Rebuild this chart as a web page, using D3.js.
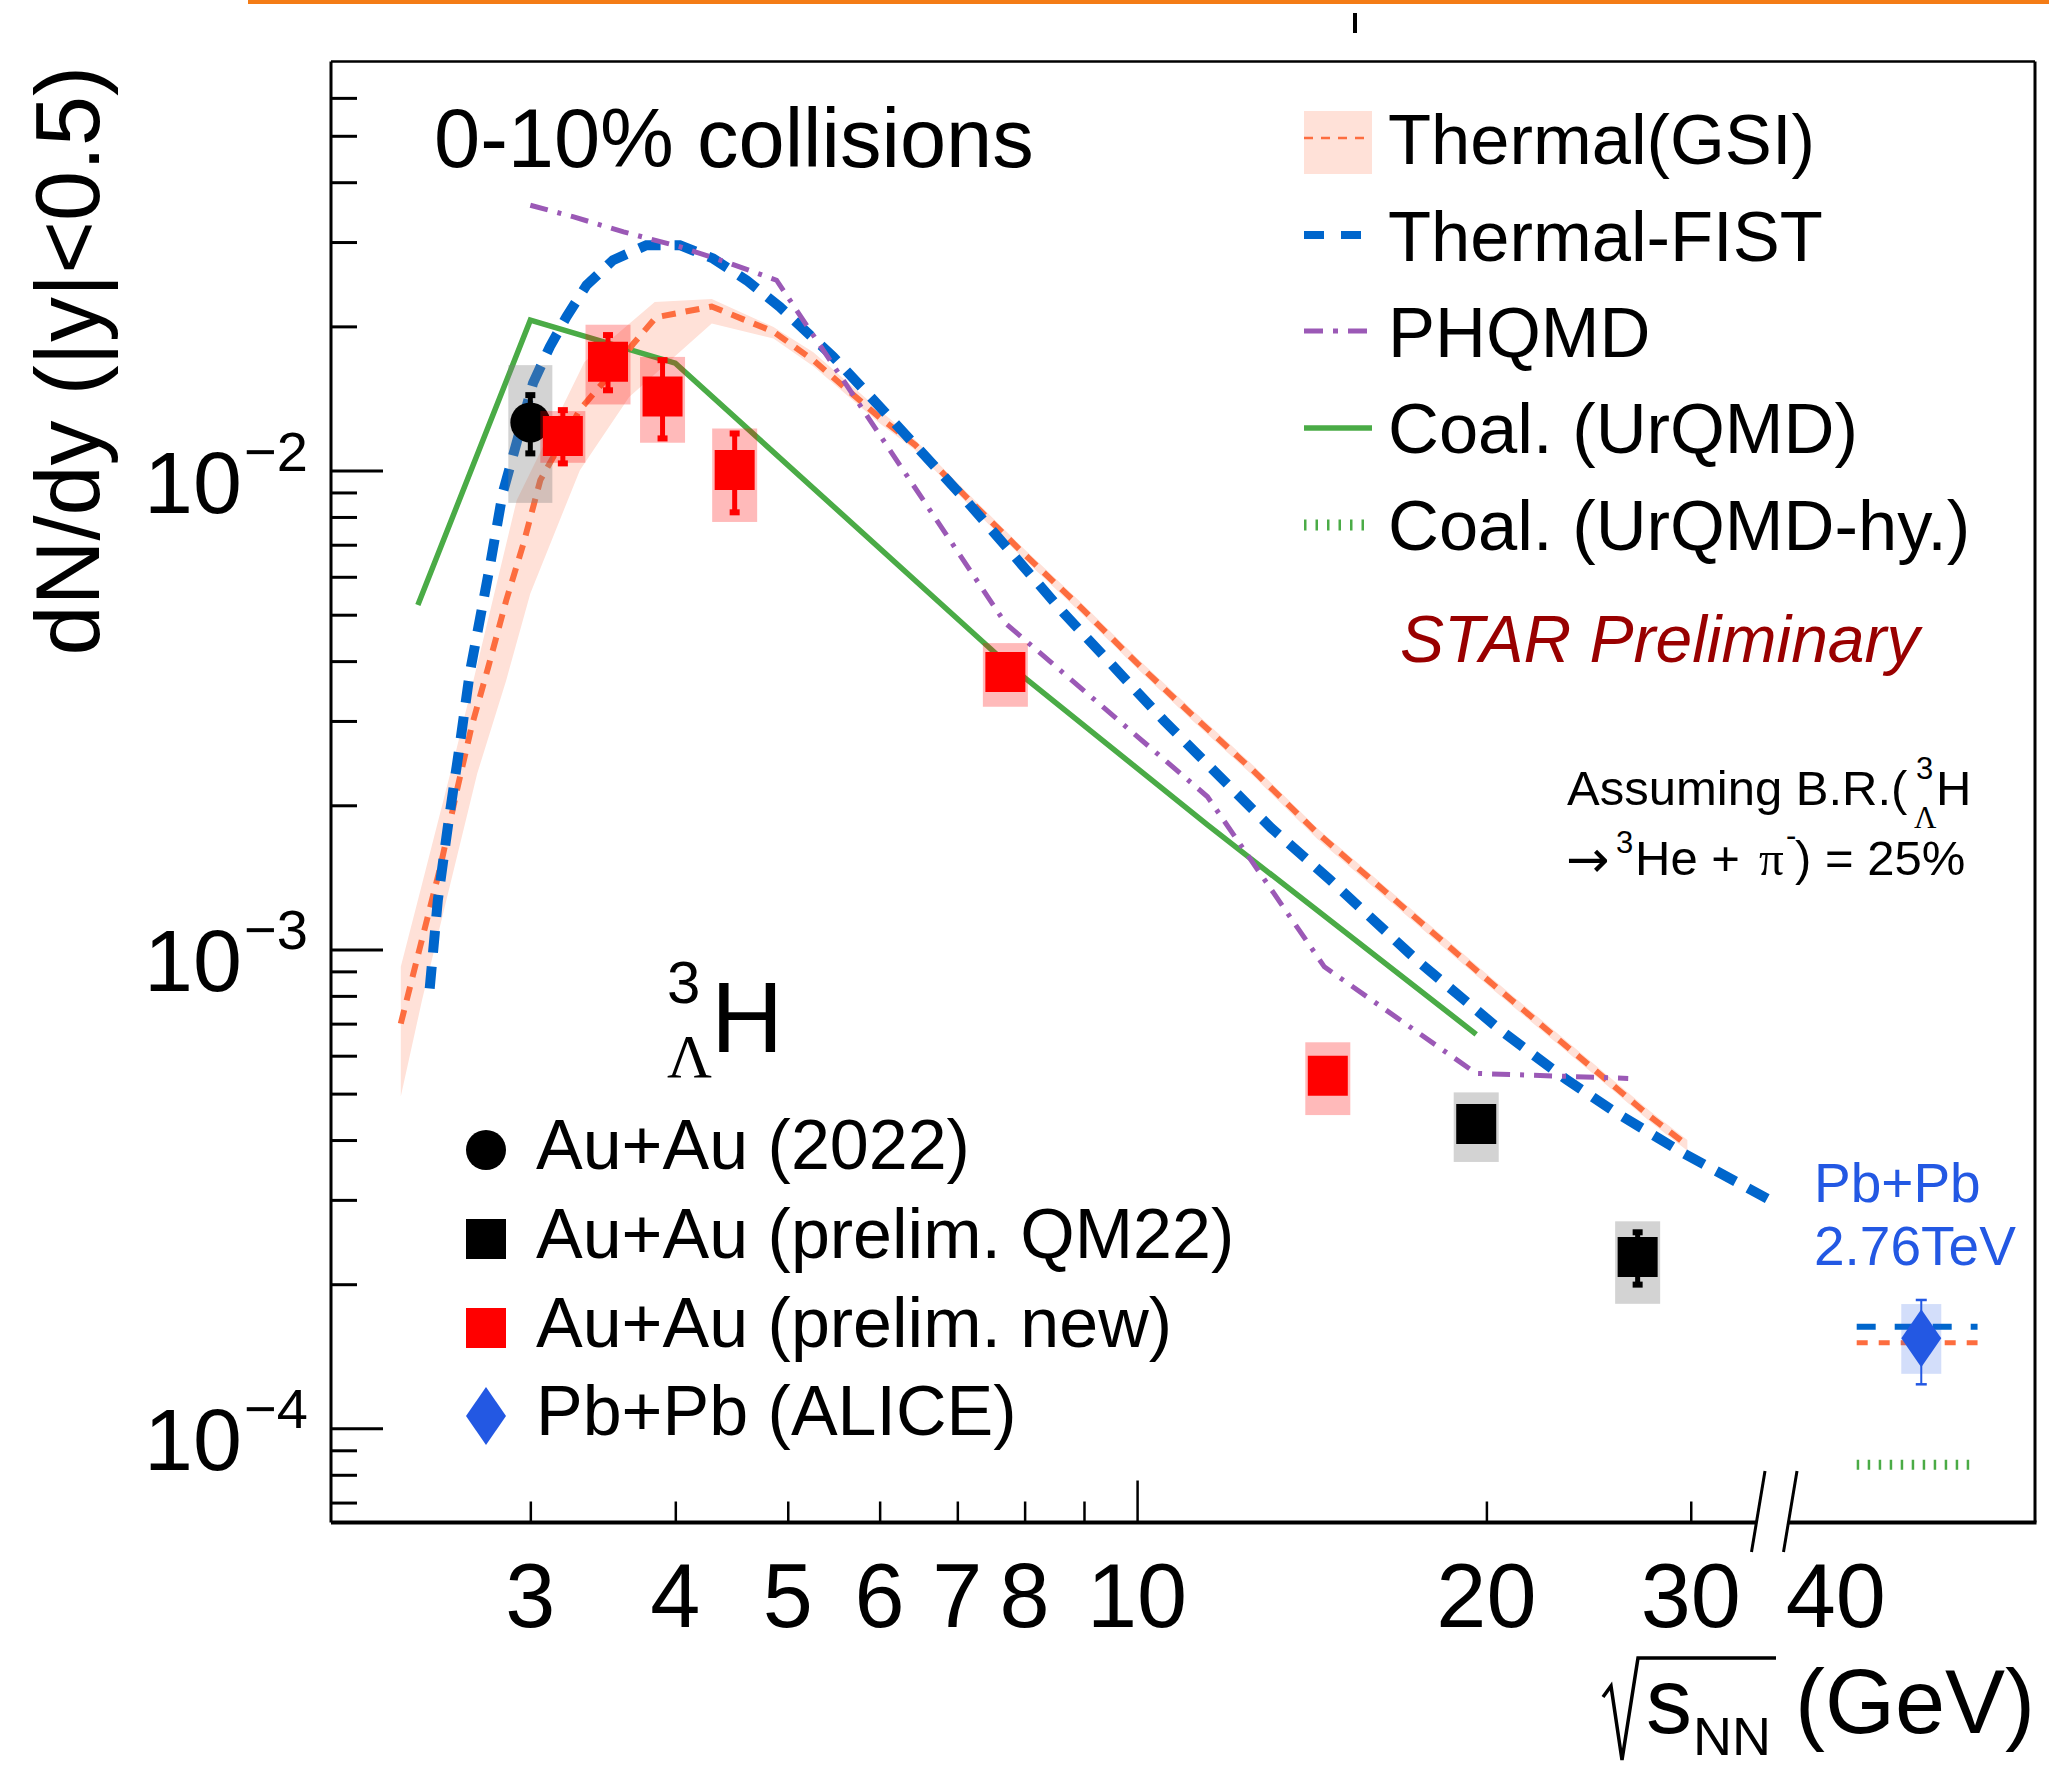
<!DOCTYPE html>
<html>
<head>
<meta charset="utf-8">
<script src="https://cdn.jsdelivr.net/npm/d3@7"></script>
<style>
html, body { margin:0; padding:0; background:#fff; }
svg { display:block; }
text { font-family: "Liberation Sans", Arial, Helvetica, sans-serif; fill:#000; }
.serif { font-family: "Liberation Serif", "DejaVu Serif", serif; }
.djv { font-family: "DejaVu Sans", sans-serif; }
</style>
</head>
<body>
<svg id="chart"></svg>
<script>
// ---- model curves (sqrt(sNN) in GeV, dN/dy) ----
var gsiE = [2.32, 2.41, 2.51, 2.59, 2.67, 2.76, 2.86, 2.96, 3.06, 3.31, 3.54, 3.68, 3.85, 4.30, 4.86, 5.26, 6.00, 6.44, 7.10, 7.96, 8.92, 10.0, 11.2, 12.6, 14.3, 19.9, 27.7, 29.8];
var gsiV = [7.0e-4, 1.01e-3, 1.49e-3, 2.12e-3, 2.92e-3, 3.89e-3, 5.36e-3, 7.05e-3, 9.55e-3, 0.0134, 0.0162, 0.0184, 0.0209, 0.0220, 0.0195, 0.0170, 0.0129, 0.0113, 8.88e-3, 6.76e-3, 5.21e-3, 3.96e-3, 3.06e-3, 2.36e-3, 1.75e-3, 8.77e-4, 4.47e-4, 3.9e-4];
var gsiUpE = [2.32, 2.42, 2.59, 2.68, 2.92, 3.34, 3.84, 4.30, 4.86, 5.26, 6.00, 6.44, 7.10, 7.96, 8.92, 10.0, 11.2, 12.6, 14.3, 19.9, 27.7, 29.8];
var gsiUpV = [9.2e-4, 1.37e-3, 2.61e-3, 3.65e-3, 8.67e-3, 0.01686, 0.0225, 0.0228, 0.01995, 0.01767, 0.01337, 0.01158, 0.00911, 0.00692, 0.00534, 0.00406, 0.00314, 0.00242, 0.00179, 0.000899, 0.000459, 0.0004];
var gsiLoE = [2.32, 2.42, 2.70, 2.86, 3.00, 3.31, 3.65, 4.30, 4.86, 5.26, 6.00, 6.44, 7.10, 7.96, 8.92, 10.0, 11.2, 12.6, 14.3, 19.9, 27.7, 29.8];
var gsiLoV = [4.93e-4, 7.84e-4, 2.33e-3, 3.65e-3, 5.54e-3, 0.01002, 0.01425, 0.02028, 0.01887, 0.01652, 0.01256, 0.01102, 0.00866, 0.00659, 0.00508, 0.00386, 0.00298, 0.0023, 0.0017, 0.000855, 0.000436, 0.00038];

var fistE = [2.457, 2.497, 2.547, 2.607, 2.66, 2.768, 2.84, 3.016, 3.118, 3.223, 3.354, 3.535, 3.777, 4.036, 4.311, 4.607, 4.921, 5.472, 6.003, 7.104, 8.655, 10.55, 13.05, 14.67, 17.42, 20.56, 23.47, 25.92, 29.58, 35.73];
var fistV = [8.29e-4, 1.268e-3, 1.804e-3, 2.65e-3, 3.771e-3, 6.295e-3, 8.97e-3, 0.01522, 0.01812, 0.02094, 0.02438, 0.02749, 0.02955, 0.02955, 0.02772, 0.02497, 0.02197, 0.01728, 0.01358, 8.724e-3, 5.024e-3, 3.003e-3, 1.793e-3, 1.396e-3, 9.5e-4, 6.787e-4, 5.338e-4, 4.548e-4, 3.753e-4, 2.927e-4];

var phqmdE = [3.0, 3.27, 3.61, 4.04, 4.46, 4.89, 7.7, 11.5, 14.5, 19.6, 26.5];
var phqmdV = [0.0358, 0.03385, 0.0315, 0.02931, 0.02706, 0.02497, 4.8e-3, 2.084e-3, 9.2e-4, 5.51e-4, 5.38e-4];

var coalE = [2.4, 3.0, 4.0, 7.7, 11.5, 19.6];
var coalV = [5.24e-3, 0.0206, 0.01676, 3.98e-3, 1.82e-3, 6.65e-4];

// model values at LHC (drawn next to the ALICE point)
var lhcE = [41.7, 53.0];
var fistLhcV = [1.63e-4, 1.63e-4];
var gsiLhcV = [1.51e-4, 1.51e-4];
var coalHyLhcV = [8.4e-5, 8.4e-5];

// ---- data points ----
var pubE = [3.0];
var pubV = [0.0126];
var pubStatLo = [0.01086], pubStatHi = [0.01437];
var pubSysLo = [0.00856], pubSysHi = [0.0166];

var newE = [3.2, 3.5, 3.9, 4.5, 7.7, 14.6];
var newV = [0.01181, 0.01688, 0.01428, 0.01003, 0.003796, 0.000545];
var newStatLo = [0.01035, 0.01471, 0.01167, 0.00818, 0.00368, 0.00053];
var newStatHi = [0.01337, 0.01918, 0.0170, 0.01195, 0.00392, 0.00056];
var newSysLo = [0.01038, 0.01374, 0.01143, 0.00781, 0.003212, 0.000451];
var newSysHi = [0.01331, 0.02016, 0.01727, 0.01224, 0.004362, 0.00064];

var qmE = [19.6, 27.0];
var qmV = [0.000432, 0.000228];
var qmStatLo = [0.00042, 0.0001996];
var qmStatHi = [0.000445, 0.0002567];
var qmSysLo = [0.00036, 0.000182];
var qmSysHi = [0.000503, 0.0002706];

var aliceE = [47.4];   // 2.76 TeV, drawn right of the axis break
var aliceV = [1.542e-4];
var aliceStatLo = [1.236e-4], aliceStatHi = [1.854e-4];
var aliceSysLo = [1.30e-4], aliceSysHi = [1.818e-4];

// ---- ticks ----
var xTickMinor = [3, 4, 5, 6, 7, 8, 9, 20, 30];
var xTickMajor = [10];
var xTickLabels = [3, 4, 5, 6, 7, 8, 10, 20, 30, 40];
var yTickMajor = [1e-4, 1e-3, 1e-2];
var yTickExp = ["\u22124", "\u22123", "\u22122"];
var yTickMinor = [7e-5, 8e-5, 9e-5, 2e-4, 3e-4, 4e-4, 5e-4, 6e-4, 7e-4, 8e-4, 9e-4,
                  2e-3, 3e-3, 4e-3, 5e-3, 6e-3, 7e-3, 8e-3, 9e-3, 2e-2, 3e-2, 4e-2, 5e-2, 6e-2];

var topLegend = ["Thermal(GSI)", "Thermal-FIST", "PHQMD", "Coal. (UrQMD)", "Coal. (UrQMD-hy.)"];
var bottomLegend = ["Au+Au (2022)", "Au+Au (prelim. QM22)", "Au+Au (prelim. new)", "Pb+Pb (ALICE)"];

var colGsi = "#fd6d3f", colBand = "#ffe1d8", colFist = "#0066cc", colPhqmd = "#9b59b6",
    colCoal = "#4aab46", colAlice = "#2358e3";

var width = 2049, height = 1766;
var frame = {left: 331, right: 2035, top: 61.4, bottom: 1522.5};

var x = d3.scaleLog().domain([2.02, 59.4]).range([frame.left, frame.right]);
var y = d3.scaleLog().domain([6.36e-5, 0.0715]).range([frame.bottom, frame.top]);

var svg = d3.select("#chart").attr("width", width).attr("height", height);
svg.append("rect").attr("width", width).attr("height", height).attr("fill", "#fff");

// slide decoration at the top
svg.append("rect").attr("x", 248).attr("y", 0).attr("width", width - 248).attr("height", 4).attr("fill", "#f47c16");
svg.append("rect").attr("x", 1353).attr("y", 13).attr("width", 4).attr("height", 20).attr("fill", "#000");

svg.append("clipPath").attr("id", "clip").append("rect")
  .attr("x", frame.left).attr("y", frame.top)
  .attr("width", frame.right - frame.left).attr("height", frame.bottom - frame.top);

function pairs(e, v) { return e.map(function(d, i) { return [d, v[i]]; }); }
var line = d3.line().x(function(d){ return x(d[0]); }).y(function(d){ return y(d[1]); });

var curves = svg.append("g").attr("clip-path", "url(#clip)");

// GSI band
var band = pairs(gsiUpE, gsiUpV).concat(pairs(gsiLoE, gsiLoV).reverse());
curves.append("path").attr("d", line(band) + "Z").attr("fill", colBand);

curves.append("path").attr("d", line(pairs(coalE, coalV)))
  .attr("fill", "none").attr("stroke", colCoal).attr("stroke-width", 5.5);
curves.append("path").attr("d", line(pairs(gsiE, gsiV)))
  .attr("fill", "none").attr("stroke", colGsi).attr("stroke-width", 6).attr("stroke-dasharray", "14,10");
curves.append("path").attr("d", line(pairs(fistE, fistV)))
  .attr("fill", "none").attr("stroke", colFist).attr("stroke-width", 10).attr("stroke-dasharray", "22,14");
curves.append("path").attr("d", line(pairs(phqmdE, phqmdV)))
  .attr("fill", "none").attr("stroke", colPhqmd).attr("stroke-width", 5).attr("stroke-dasharray", "18,10,4,10");

curves.append("path").attr("d", line(pairs(lhcE, fistLhcV)))
  .attr("fill", "none").attr("stroke", colFist).attr("stroke-width", 6).attr("stroke-dasharray", "19,19");
curves.append("path").attr("d", line(pairs(lhcE, gsiLhcV)))
  .attr("fill", "none").attr("stroke", colGsi).attr("stroke-width", 5).attr("stroke-dasharray", "11,11");
curves.append("path").attr("d", line(pairs(lhcE, coalHyLhcV)))
  .attr("fill", "none").attr("stroke", colCoal).attr("stroke-width", 10).attr("stroke-dasharray", "2.5,8.5");

// data points: sys box, stat bar, marker
function drawPoints(E, V, sLo, sHi, yLo, yHi, o) {
  var g = svg.append("g");
  var idx = d3.range(E.length);
  g.selectAll("rect.sys").data(idx).enter().append("rect")
    .attr("x", function(i){ return x(E[i]) - o.box; })
    .attr("width", 2 * o.box)
    .attr("y", function(i){ return y(yHi[i]); })
    .attr("height", function(i){ return y(yLo[i]) - y(yHi[i]); })
    .attr("fill", o.boxFill);
  g.selectAll("line.err").data(idx).enter().append("line")
    .attr("x1", function(i){ return x(E[i]); }).attr("x2", function(i){ return x(E[i]); })
    .attr("y1", function(i){ return y(sHi[i]); }).attr("y2", function(i){ return y(sLo[i]); })
    .attr("stroke", o.color).attr("stroke-width", o.errW);
  [sLo, sHi].forEach(function(arr) {
    g.selectAll(null).data(idx).enter().append("rect")
      .attr("x", function(i){ return x(E[i]) - o.capW / 2; })
      .attr("y", function(i){ return y(arr[i]) - o.capH / 2; })
      .attr("width", o.capW).attr("height", o.capH).attr("fill", o.color);
  });
  g.selectAll("path.mk").data(idx).enter().append("path")
    .attr("transform", function(i){ return "translate(" + x(E[i]) + "," + y(V[i]) + ")"; })
    .attr("d", o.shape).attr("fill", o.color);
  return g;
}
var circleShape = "M-20,0A20,20 0 1,0 20,0A20,20 0 1,0 -20,0Z";
var squareShape = "M-20,-20H20V20H-20Z";
var diamondShape = "M0,-29L20,0L0,29L-20,0Z";

drawPoints(pubE, pubV, pubStatLo, pubStatHi, pubSysLo, pubSysHi,
  {box: 22, boxFill: "rgba(128,128,128,0.35)", color: "#000", errW: 5, capW: 10, capH: 6, shape: circleShape});
drawPoints(qmE, qmV, qmStatLo, qmStatHi, qmSysLo, qmSysHi,
  {box: 22.5, boxFill: "rgba(128,128,128,0.35)", color: "#000", errW: 5, capW: 10, capH: 6, shape: squareShape});
drawPoints(newE, newV, newStatLo, newStatHi, newSysLo, newSysHi,
  {box: 22.5, boxFill: "rgba(255,0,0,0.27)", color: "#ff0000", errW: 5, capW: 10, capH: 6, shape: squareShape});
drawPoints(aliceE, aliceV, aliceStatLo, aliceStatHi, aliceSysLo, aliceSysHi,
  {box: 20, boxFill: "rgba(35,88,230,0.2)", color: colAlice, errW: 2, capW: 11, capH: 2.5, shape: diamondShape});

// ---- frame and axes ----
var fr = svg.append("g").attr("stroke", "#000").attr("fill", "none");
fr.append("line").attr("x1", frame.left).attr("x2", frame.left).attr("y1", frame.top).attr("y2", frame.bottom).attr("stroke-width", 3);
fr.append("line").attr("x1", frame.left).attr("x2", frame.right).attr("y1", frame.top).attr("y2", frame.top).attr("stroke-width", 2.5);
fr.append("line").attr("x1", frame.right).attr("x2", frame.right).attr("y1", frame.top).attr("y2", frame.bottom).attr("stroke-width", 3);
fr.append("line").attr("x1", frame.left).attr("x2", 1757).attr("y1", frame.bottom).attr("y2", frame.bottom).attr("stroke-width", 4);
fr.append("line").attr("x1", 1789).attr("x2", frame.right + 1.5).attr("y1", frame.bottom).attr("y2", frame.bottom).attr("stroke-width", 4);
// axis break marks
fr.append("line").attr("x1", 1765).attr("y1", 1471).attr("x2", 1751.5).attr("y2", 1552).attr("stroke-width", 3);
fr.append("line").attr("x1", 1797).attr("y1", 1471).attr("x2", 1783.5).attr("y2", 1552).attr("stroke-width", 3);

function styleAxis(g, w) {
  g.select(".domain").remove();
  g.selectAll(".tick line").attr("stroke", "#000").attr("stroke-width", w);
  g.selectAll(".tick text").remove();
}
svg.append("g").attr("transform", "translate(" + frame.left + ",0)")
  .call(d3.axisLeft(y).tickValues(yTickMajor).tickSize(-52).tickFormat(""))
  .call(function(g){ styleAxis(g, 3); });
svg.append("g").attr("transform", "translate(" + frame.left + ",0)")
  .call(d3.axisLeft(y).tickValues(yTickMinor).tickSize(-26).tickFormat(""))
  .call(function(g){ styleAxis(g, 3); });
svg.append("g").attr("transform", "translate(0," + frame.bottom + ")")
  .call(d3.axisBottom(x).tickValues(xTickMinor).tickSize(-21).tickFormat(""))
  .call(function(g){ styleAxis(g, 2.5); });
svg.append("g").attr("transform", "translate(0," + frame.bottom + ")")
  .call(d3.axisBottom(x).tickValues(xTickMajor).tickSize(-42).tickFormat(""))
  .call(function(g){ styleAxis(g, 2.5); });

// tick labels
svg.append("g").selectAll("text").data(xTickLabels).enter().append("text")
  .attr("x", function(d){ return x(d); }).attr("y", 1627)
  .attr("text-anchor", "middle").attr("font-size", 90).text(function(d){ return d; });

var yl = svg.append("g");
yl.selectAll("text.b").data(yTickMajor).enter().append("text")
  .attr("x", 242).attr("y", function(d){ return y(d) + 42; })
  .attr("text-anchor", "end").attr("font-size", 88).text("10");
yl.selectAll("text.e").data(yTickMajor).enter().append("text")
  .attr("x", 244).attr("y", function(d){ return y(d); })
  .attr("font-size", 56).text(function(d, i){ return yTickExp[i]; });

// axis titles
svg.append("text").attr("transform", "translate(99,66) rotate(-90)")
  .attr("text-anchor", "end").attr("font-size", 90).text("dN/dy (|y|<0.5)");

svg.append("path").attr("d", "M1603,1697L1611,1686L1622,1760L1638,1658L1776,1658")
  .attr("fill", "none").attr("stroke", "#000").attr("stroke-width", 3.5);
svg.append("text").attr("x", 1646).attr("y", 1733).attr("font-size", 92).text("s");
svg.append("text").attr("x", 1693).attr("y", 1755).attr("font-size", 54).text("NN");
svg.append("text").attr("x", 2035).attr("y", 1733).attr("text-anchor", "end").attr("font-size", 90).text("(GeV)");

// ---- annotations ----
svg.append("text").attr("x", 434).attr("y", 167).attr("font-size", 83).text("0-10% collisions");

svg.append("text").attr("x", 1400).attr("y", 662).attr("font-size", 66)
  .attr("font-style", "italic").style("fill", "#990000").text("STAR Preliminary");

// branching ratio note
svg.append("text").attr("x", 1567).attr("y", 805).attr("font-size", 49).text("Assuming B.R.(");
svg.append("text").attr("x", 1916).attr("y", 779).attr("font-size", 31).text("3");
svg.append("text").attr("class", "serif").attr("x", 1914).attr("y", 828).attr("font-size", 31).text("\u039B");
svg.append("text").attr("x", 1936).attr("y", 805).attr("font-size", 49).text("H");
svg.append("text").attr("class", "djv").attr("x", 1566).attr("y", 877).attr("font-size", 52).text("\u2192");
svg.append("text").attr("x", 1616).attr("y", 853).attr("font-size", 31).text("3");
svg.append("text").attr("x", 1635).attr("y", 875).attr("font-size", 49).text("He + ");
svg.append("text").attr("class", "serif").attr("x", 1759).attr("y", 875).attr("font-size", 49).text("\u03C0");
svg.append("text").attr("x", 1786).attr("y", 846).attr("font-size", 31).text("-");
svg.append("text").attr("x", 1795).attr("y", 875).attr("font-size", 49).text(") = 25%");

svg.append("text").attr("x", 1814).attr("y", 1202).attr("font-size", 55).style("fill", colAlice).text("Pb+Pb");
svg.append("text").attr("x", 1814).attr("y", 1265).attr("font-size", 55).style("fill", colAlice).text("2.76TeV");

// hypertriton label
svg.append("text").attr("x", 667).attr("y", 1003).attr("font-size", 60).text("3");
svg.append("text").attr("class", "serif").attr("x", 667).attr("y", 1077).attr("font-size", 62).text("\u039B");
svg.append("text").attr("x", 711).attr("y", 1052).attr("font-size", 100).text("H");

// ---- top-right legend ----
var legBase = [164, 261, 357, 453, 550];
var lx0 = 1304, lx1 = 1372;
var lg = svg.append("g");
lg.selectAll("text").data(topLegend).enter().append("text")
  .attr("x", 1388).attr("y", function(d, i){ return legBase[i]; })
  .attr("font-size", 70.5).text(function(d){ return d; });
lg.append("rect").attr("x", lx0).attr("y", 111).attr("width", lx1 - lx0).attr("height", 63).attr("fill", colBand);
lg.append("line").attr("x1", lx0).attr("x2", lx1).attr("y1", 138).attr("y2", 138)
  .attr("stroke", colGsi).attr("stroke-width", 2.5).attr("stroke-dasharray", "9,8");
lg.append("line").attr("x1", lx0).attr("x2", 1362).attr("y1", 235).attr("y2", 235)
  .attr("stroke", colFist).attr("stroke-width", 8).attr("stroke-dasharray", "20,17");
lg.append("line").attr("x1", lx0).attr("x2", 1370).attr("y1", 331).attr("y2", 331)
  .attr("stroke", colPhqmd).attr("stroke-width", 5).attr("stroke-dasharray", "19,10,5,10");
lg.append("line").attr("x1", lx0).attr("x2", lx1).attr("y1", 428).attr("y2", 428)
  .attr("stroke", colCoal).attr("stroke-width", 5.5);
lg.append("line").attr("x1", lx0).attr("x2", lx1).attr("y1", 525).attr("y2", 525)
  .attr("stroke", colCoal).attr("stroke-width", 11).attr("stroke-dasharray", "2.5,9");

// ---- bottom-left legend ----
var bBase = [1169, 1258, 1347, 1435];
var bShapes = [circleShape, squareShape, squareShape, diamondShape];
var bColors = ["#000", "#000", "#ff0000", colAlice];
var bl = svg.append("g");
bl.selectAll("text").data(bottomLegend).enter().append("text")
  .attr("x", 536).attr("y", function(d, i){ return bBase[i]; })
  .attr("font-size", 70).text(function(d){ return d; });
bl.selectAll("path").data(bottomLegend).enter().append("path")
  .attr("transform", function(d, i){ return "translate(486," + (bBase[i] - 19) + ")"; })
  .attr("d", function(d, i){ return bShapes[i]; })
  .attr("fill", function(d, i){ return bColors[i]; });
</script>
</body>
</html>
